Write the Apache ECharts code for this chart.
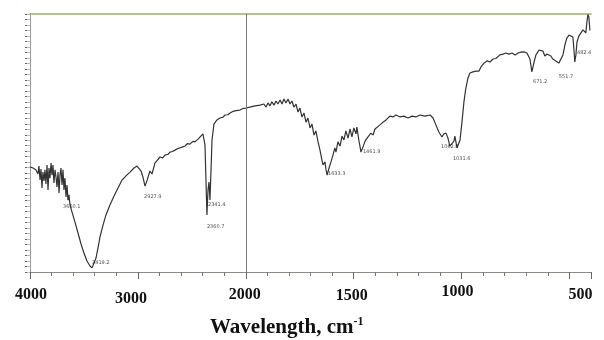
<!DOCTYPE html>
<html>
<head>
<meta charset="utf-8">
<script src="https://cdn.jsdelivr.net/npm/echarts@6/dist/echarts.min.js"></script>
<style>html,body{margin:0;padding:0;background:#fff}#c{width:604px;height:340px}</style>
</head>
<body>
<div id="c"></div>
<script>
// Spectrum (wavenumber, cm-1) and transmittance (arbitrary %)
var wavenumbers = [4000,3972,3944,3926,3917,3907,3898,3889,3880,3870,3861,3852,3842,3833,3824,3815,3805,3796,3787,3778,3768,3759,3750,3740,3731,3722,3713,3703,3694,3685,3676,3666,3657,3648,3639,3629,3611,3583,3555,3527,3500,3472,3444,3425,3407,3388,3370,3351,3323,3296,3259,3221,3184,3147,3110,3073,3036,3008,2990,2971,2953,2934,2916,2897,2888,2869,2842,2795,2770,2749,2720,2702,2680,2656,2630,2610,2585,2563,2540,2517,2490,2471,2440,2424,2397,2378,2369,2360,2350,2341,2332,2322,2313,2295,2267,2239,2210,2193,2165,2146,2120,2100,2075,2054,2025,1998,
1981,1957,1934,1916,1906,1897,1888,1879,1869,1860,1851,1841,1832,1823,1814,1804,1795,1786,1777,1767,1758,1749,1740,1730,1721,1712,1702,1693,1684,1675,1665,1656,1647,1642,1633,1628,1623,1614,1605,1596,1587,1582,1573,1563,1554,1545,1536,1526,1517,1508,1499,1489,1485,1476,1466,1457,1447,1438,1429,1420,1410,1401,1392,1378,1364,1350,1332,1318,1304,1285,1267,1248,1230,1211,1193,1170,1146,1132,1119,1105,1091,1082,1072,1063,1054,1045,1035,1031,1026,1021,1017,1007,998,989,980,970,961,947,933,919,910,896,882,868,854,841,822,808,794,780,766,752,738,725,711,697,683,674,664,655,641,632,623,614,604,595,586,577,563,549,540,530,521,512,502,493,484,479,475,470,465,456,447,437,428,424,419,414,410,405];
var transmittance = [38.3,37.9,37.2,35.7,38.6,33.5,37.5,30.6,36.4,33.2,37.2,32.1,39.0,29.9,37.9,34.2,39.7,35.3,39.0,32.4,37.2,34.6,31.0,36.4,28.8,35.3,37.9,31.7,37.2,29.9,34.2,27.3,31.7,26.2,28.1,24.4,21.9,18.2,14.2,10.2,6.9,4.0,2.2,1.5,1.8,5.1,8.7,12.8,17.1,20.8,24.4,27.7,30.6,33.5,35.0,36.4,37.9,38.6,38.3,36.8,34.6,31.3,33.2,35.7,36.8,35.7,39.7,41.9,41.6,42.6,42.9,43.7,43.9,44.4,45.0,45.2,45.6,45.9,46.8,46.6,47.6,47.4,48.5,48.8,50.3,46.3,33.5,20.8,29.9,32.8,26.2,37.2,48.1,53.9,55.4,56.1,56.4,57.2,57.3,57.9,58.5,58.7,58.9,59.0,59.6,59.7,
60.1,60.5,60.8,61.2,60.1,61.6,60.5,62.0,60.8,62.3,61.2,62.7,61.2,63.0,61.6,63.0,61.2,62.3,60.1,61.2,58.3,59.7,56.5,57.9,54.6,56.1,52.5,53.9,49.9,51.4,47.4,44.4,40.8,39.0,40.1,37.2,35.3,37.9,40.1,42.6,45.2,43.7,47.4,45.9,49.5,48.1,51.4,48.8,52.1,49.2,52.5,50.3,52.8,48.1,43.7,45.5,47.7,48.8,48.1,50.6,49.9,52.1,51.4,53.6,54.6,55.4,56.8,56.5,57.2,56.5,56.8,56.1,56.8,56.5,57.2,56.8,57.2,56.1,53.6,51.0,49.2,50.3,50.6,48.8,45.9,45.2,47.7,49.5,47.4,45.2,45.5,48.1,54.6,61.9,67.0,70.7,72.5,72.9,73.2,73.2,74.7,76.1,76.9,76.5,77.6,77.8,79.1,79.4,79.8,79.4,79.8,79.1,79.8,80.1,80.2,79.8,77.6,72.9,76.5,79.1,80.9,81.2,80.5,78.7,79.4,80.1,78.7,77.6,76.9,76.1,76.5,79.1,82.7,85.2,86.3,86.7,85.6,80.9,76.5,79.1,83.8,86.0,86.7,88.2,88.9,87.1,91.1,93.8,92.9,88.0];

// Peak annotations
var peakWavenumbers = [3694,3425,2943,2350,2360,1619,1457,1095,1040,669,549,465];
var peakLevels = [23.7,3.3,27.3,24.4,16.4,35.7,43.7,45.5,41.2,69.2,71.0,79.8];
var peakTexts = ['3650.1','3419.2','2927.9','2341.4','2360.7','1633.3','1461.9','1062.8','1031.6','671.2','551.7','482.4'];

// Axis tick labels
var tickWavenumbers = [4000,3000,2000,1500,1000,500];
var tickLabels = ['4000','3000','2000','1500','1000','500'];

// Split-scale axis: 200 cm-1 per division above 2000, 100 cm-1 per division below
function toU(w){ return w >= 2000 ? (4000 - w) / 200 : 10 + (2000 - w) / 100; }

var lineData = wavenumbers.map(function(w,i){ return [toU(w), transmittance[i]]; });
var peakData = peakWavenumbers.map(function(w,i){ return {value:[toU(w), peakLevels[i]], name: peakTexts[i]}; });
var tickU = tickWavenumbers.map(toU);

var labelRich = {
  t0:{padding:[4,0,0,2]},
  t1:{padding:[8,14,0,0]},
  t2:{padding:[4,2,0,0]},
  t3:{padding:[5,4,0,0]},
  t4:{padding:[1,8,0,0]},
  t5:{padding:[4,0,0,22]}
};

var chart = echarts.init(document.getElementById('c'), null, {renderer:'canvas'});
chart.setOption({
  animation:false,
  backgroundColor:'#ffffff',
  grid:{left:30, right:13, top:14, bottom:68},
  title:{
    text:'{a|Wavelength, cm}{b|-1}',
    left:205, top:311,
    textStyle:{rich:{
      a:{fontFamily:'Liberation Serif', fontWeight:'bold', fontSize:21, color:'#111'},
      b:{fontFamily:'Liberation Serif', fontWeight:'bold', fontSize:12, color:'#111', padding:[0,0,11,0]}
    }}
  },
  xAxis:[
    {type:'value', min:0, max:26, interval:1, position:'bottom',
     axisLine:{show:true, lineStyle:{color:'#8c8c80', width:1}},
     axisTick:{show:true, length:4, lineStyle:{color:'#777'}},
     splitLine:{show:false},
     axisLabel:{show:true, margin:11, fontFamily:'Liberation Serif', fontWeight:'bold', fontSize:16, color:'#111',
       formatter:function(v){
         for (var i=0;i<tickU.length;i++){ if (Math.abs(v-tickU[i])<1e-6) return '{t'+i+'|'+tickLabels[i]+'}'; }
         return '';
       }, rich:labelRich}
    },
    {type:'value', min:0, max:26, interval:5, position:'bottom',
     axisLine:{show:false}, axisTick:{show:true, length:7, lineStyle:{color:'#666'}},
     axisLabel:{show:false}, splitLine:{show:false}},
    {type:'value', min:0, max:26, position:'top',
     axisLine:{show:true, lineStyle:{color:'#98b060', width:1.5}}, axisTick:{show:false},
     axisLabel:{show:false}, splitLine:{show:false}}
  ],
  yAxis:[
    {type:'value', min:0, max:94, interval:2, position:'left',
     axisLine:{show:true, lineStyle:{color:'#555', width:1}},
     axisTick:{show:true, length:5, lineStyle:{color:'#667'}},
     axisLabel:{show:false}, splitLine:{show:false}},
    {type:'value', min:0, max:94, interval:2, position:'right',
     axisLine:{show:true, lineStyle:{color:'#9a9a9a', width:1}},
     axisTick:{show:true, inside:true, length:3, lineStyle:{color:'#bbb'}},
     axisLabel:{show:false}, splitLine:{show:false}}
  ],
  series:[
    {type:'line', data:lineData, showSymbol:false, symbol:'none',
     lineStyle:{color:'#333333', width:1.2}, z:3,
     markLine:{silent:true, symbol:'none', label:{show:false},
       lineStyle:{color:'#7a7a7a', type:'solid', width:1},
       data:[{xAxis:toU(2000)}]}
    },
    {type:'scatter', data:peakData, symbolSize:0, z:4,
     label:{show:true, position:'right', distance:0, formatter:'{b}',
       fontFamily:'DejaVu Sans', fontSize:5, color:'#222'}}
  ]
});
</script>
</body>
</html>
